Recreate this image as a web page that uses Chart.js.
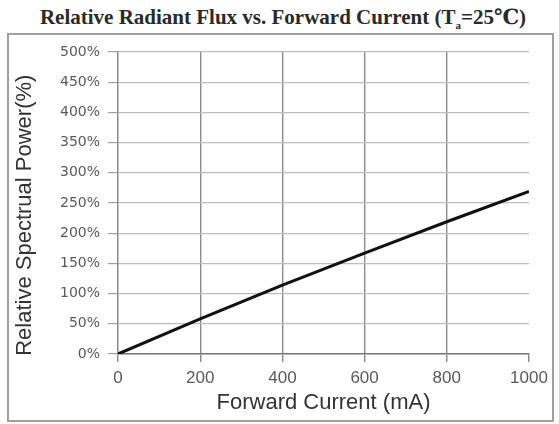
<!DOCTYPE html>
<html>
<head>
<meta charset="utf-8">
<script src="https://cdn.jsdelivr.net/npm/chart.js@4.4.0/dist/chart.umd.min.js"></script>
<style>
    html, body { margin: 0; padding: 0; background: #fff; }
    #wrap { position: relative; width: 559px; height: 424px; overflow: hidden; }
    #title {
        position: absolute; left: 0; top: 4px; width: 566px; text-align: center; white-space: nowrap;
        font-family: "Liberation Serif", "DejaVu Serif", serif; font-size: 21px; font-weight: bold; color: #2a2a2a;
    }
    #frame {
        position: absolute; left: 7px; top: 33px; width: 547px; height: 389px;
        border: 2px solid #a0a0a0; box-sizing: border-box;
    }
    #chart { position: absolute; left: 0; top: 0; }
</style>
</head>
<body>
<div id="wrap">
    <div id="title">Relative Radiant Flux vs. Forward Current (T<sub style="font-size:11px">a</sub>=25℃)</div>
    <div id="frame"></div>
    <canvas id="chart" width="559" height="424"></canvas>
</div>
<script>
    // Datos
    const currentMA = [0, 200, 400, 600, 800, 1000];
    const relativePower = [0, 58, 114, 167, 219, 269];
    const yTicks = [0, 50, 100, 150, 200, 250, 300, 350, 400, 450, 500];
    const xTicks = [0, 200, 400, 600, 800, 1000];

    const ctx = document.getElementById('chart').getContext('2d');

    new Chart(ctx, {
        type: 'line',
        data: {
            datasets: [{
                label: 'Relative Spectrual Power',
                data: currentMA.map((x, i) => ({ x: x, y: relativePower[i] })),
                borderColor: '#111',
                borderWidth: 3,
                pointRadius: 0,
                tension: 0,
                fill: false
            }]
        },
        options: {
            responsive: false,
            animation: false,
            layout: { padding: { left: 0, right: 30, top: 52, bottom: 0 } },
            plugins: {
                legend: { display: false },
                tooltip: { enabled: false }
            },
            scales: {
                x: {
                    type: 'linear',
                    min: 0,
                    max: 1000,
                    afterBuildTicks: (scale) => { scale.ticks = xTicks.map(v => ({ value: v })); },
                    afterFit: (scale) => { scale.height = 70; },
                    grid: {
                        color: (c) => (c.tick && c.tick.value === 1000) ? 'rgba(0,0,0,0)' : '#8c8c8c',
                        lineWidth: 1.4,
                        tickLength: 8,
                        tickColor: '#888'
                    },
                    border: { display: true, color: '#7a7a7a', width: 1.6 },
                    ticks: {
                        color: '#5a5a5a',
                        font: { family: 'Liberation Sans, Arial', size: 17 },
                        padding: 6,
                        maxRotation: 0,
                        callback: (v) => String(v)
                    },
                    title: {
                        display: true,
                        text: 'Forward Current (mA)',
                        color: '#333',
                        font: { family: 'Liberation Sans, Arial', size: 22 },
                        padding: { top: 0, bottom: 8 }
                    }
                },
                y: {
                    min: 0,
                    max: 500,
                    afterBuildTicks: (scale) => { scale.ticks = yTicks.map(v => ({ value: v })); },
                    afterFit: (scale) => { scale.width = 118; },
                    grid: {
                        color: '#bdbdbd',
                        lineWidth: 1.2,
                        tickLength: 10,
                        tickColor: '#a0a0a0'
                    },
                    border: { display: true, color: '#8a8a8a', width: 1.2 },
                    ticks: {
                        color: '#5a5a5a',
                        font: { family: 'DejaVu Sans', size: 14 },
                        padding: 8,
                        callback: (v) => v + '%'
                    },
                    title: {
                        display: true,
                        text: 'Relative Spectrual Power(%)    ',
                        color: '#333',
                        font: { family: 'Liberation Sans, Arial', size: 22 },
                        padding: { top: 12, bottom: 0 }
                    }
                }
            }
        }
    });
</script>
</body>
</html>
